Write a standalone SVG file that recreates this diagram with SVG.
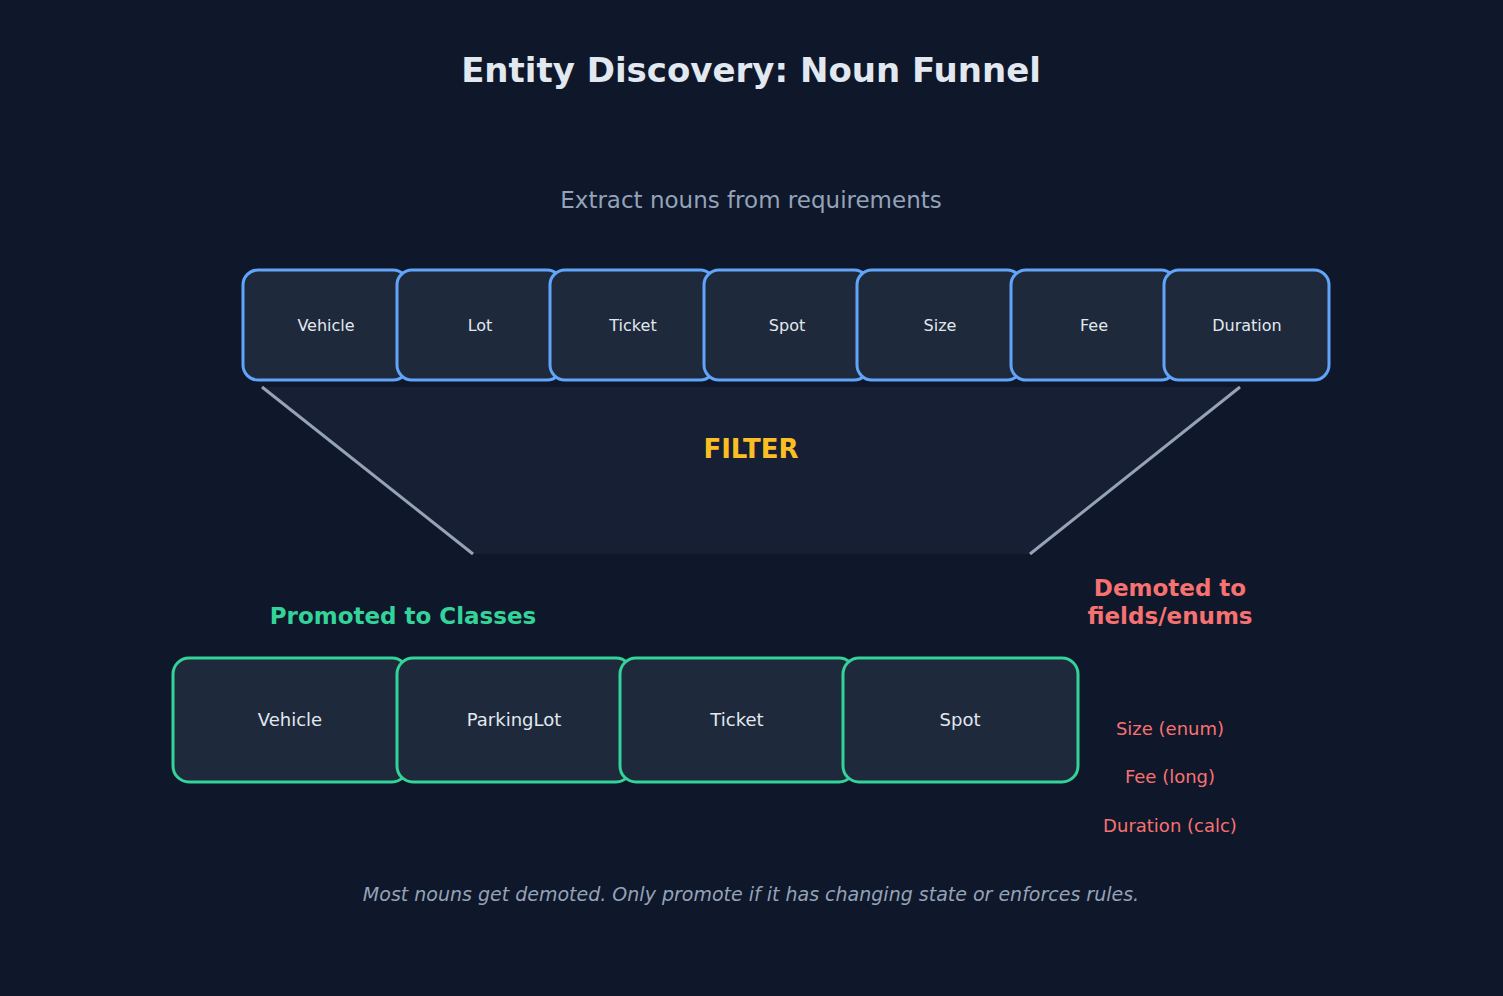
<svg xmlns="http://www.w3.org/2000/svg" width="1503" height="996" viewBox="0 0 1503 996">
<style>
text{font-family:"DejaVu Sans",sans-serif;text-anchor:middle}
.top rect{fill:#1e293b;stroke:#60a5fa;stroke-width:3}
.top text{fill:#e2e8f0;font-size:16px}
.bot rect{fill:#1e293b;stroke:#34d399;stroke-width:3}
.bot text{fill:#e2e8f0;font-size:18px}
.dem{fill:#f87171;font-size:18px}
</style>
<rect width="1503" height="996" fill="#0f172a"/>
<text x="751" y="82" font-size="34" font-weight="bold" fill="#e2e8f0">Entity Discovery: Noun Funnel</text>
<text x="751" y="208" font-size="23" fill="#94a3b8">Extract nouns from requirements</text>
<g id="funnel">
<polygon points="262,387 1240,387 1030,554 473,554" fill="#161f33"/>
</g>
<g id="connectors" stroke="#94a3b8" stroke-width="3">
<line x1="262" y1="387" x2="473" y2="554"/>
<line x1="1240" y1="387" x2="1030" y2="554"/>
</g>
<text x="751" y="458" font-size="26" font-weight="bold" fill="#fbbf24">FILTER</text>
<g class="top">
<g id="n-vehicle"><rect x="243" y="270" width="165" height="110" rx="15"/><text x="326" y="331">Vehicle</text></g>
<g id="n-lot"><rect x="397" y="270" width="165" height="110" rx="15"/><text x="480" y="331">Lot</text></g>
<g id="n-ticket"><rect x="550" y="270" width="165" height="110" rx="15"/><text x="633" y="331">Ticket</text></g>
<g id="n-spot"><rect x="704" y="270" width="165" height="110" rx="15"/><text x="787" y="331">Spot</text></g>
<g id="n-size"><rect x="857" y="270" width="165" height="110" rx="15"/><text x="940" y="331">Size</text></g>
<g id="n-fee"><rect x="1011" y="270" width="165" height="110" rx="15"/><text x="1094" y="331">Fee</text></g>
<g id="n-duration"><rect x="1164" y="270" width="165" height="110" rx="15"/><text x="1247" y="331">Duration</text></g>
</g>
<text x="403" y="624" font-size="23" font-weight="bold" fill="#34d399">Promoted to Classes</text>
<text x="1170" y="596" font-size="23" font-weight="bold" fill="#f87171">Demoted to</text>
<text x="1170" y="624" font-size="23" font-weight="bold" fill="#f87171">fields/enums</text>
<g class="bot">
<g id="c-vehicle"><rect x="173" y="658" width="235" height="124" rx="16"/><text x="290" y="726">Vehicle</text></g>
<g id="c-parkinglot"><rect x="397" y="658" width="235" height="124" rx="16"/><text x="514" y="726">ParkingLot</text></g>
<g id="c-ticket"><rect x="620" y="658" width="235" height="124" rx="16"/><text x="737" y="726">Ticket</text></g>
<g id="c-spot"><rect x="843" y="658" width="235" height="124" rx="16"/><text x="960" y="726">Spot</text></g>
</g>
<text class="dem" x="1170" y="735">Size (enum)</text>
<text class="dem" x="1170" y="783">Fee (long)</text>
<text class="dem" x="1170" y="832">Duration (calc)</text>
<text x="751" y="901" font-size="19" font-style="italic" fill="#94a3b8">Most nouns get demoted. Only promote if it has changing state or enforces rules.</text>
</svg>
